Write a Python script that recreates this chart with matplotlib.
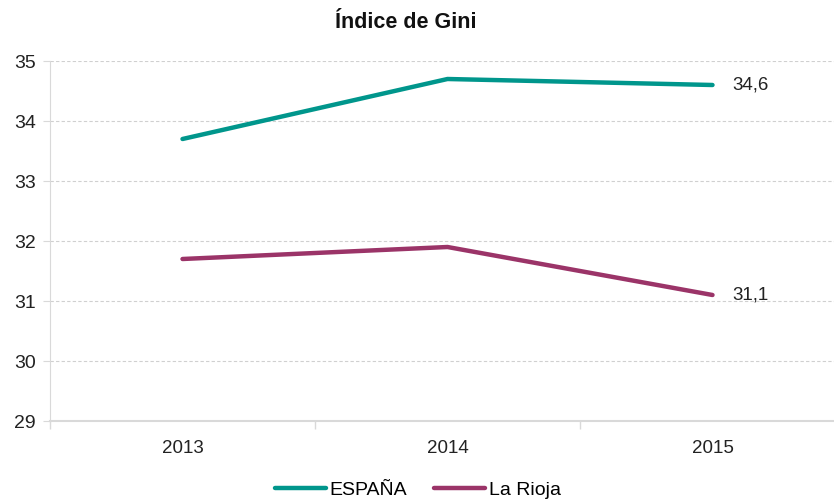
import matplotlib.pyplot as plt
import numpy as np

years = ['2013', '2014', '2015']
espana = [33.7, 34.7, 34.6]
rioja = [31.7, 31.9, 31.1]
series_names = ['ESPAÑA', 'La Rioja']
colors = ['#00968C', '#9B3468']

plt.rcParams['font.family'] = ['Liberation Sans', 'DejaVu Sans']

fig = plt.figure(figsize=(8.34, 5.04), dpi=100)
ax = fig.add_axes([50 / 834, 1 - 421 / 504, 795 / 834, 360 / 504])

x = np.arange(len(years))
for vals, name, col in zip([espana, rioja], series_names, colors):
    ax.plot(x, vals, color=col, lw=3.2, solid_capstyle='round', label=name)
    ax.text(x[-1] + 0.075, vals[-1], f'{vals[-1]:.1f}'.replace('.', ','),
            va='center', ha='left', fontsize=13.5, color='#222222')

ax.set_xlim(-0.5, 2.5)
ax.set_ylim(29, 35)
ax.set_yticks(range(29, 36))
ax.set_xticks(x)
ax.set_xticklabels(years)
ax.set_xticks([-0.5, 0.5, 1.5, 2.5], minor=True)
ax.tick_params(axis='x', which='major', length=0, pad=14, labelsize=13.5,
               colors='#222222')
ax.tick_params(axis='x', which='minor', length=6, color='#d9d9d9', width=1)
ax.tick_params(axis='y', length=5, color='#d9d9d9', labelsize=14, pad=5,
               colors='#222222')

ax.grid(axis='y', color='#d0d0d0', ls=(0, (3, 2)), lw=0.8)
ax.set_axisbelow(True)
for s in ['top', 'right']:
    ax.spines[s].set_visible(False)
ax.spines['left'].set_color('#d9d9d9')
ax.spines['bottom'].set_color('#d9d9d9')
ax.spines['bottom'].set_linewidth(1.5)

fig.text(406 / 834, 1 - 22 / 504, 'Índice de Gini', ha='center', va='center',
         fontsize=15.5, fontweight='bold', color='#111111')

fig.legend(loc='center', bbox_to_anchor=(418 / 834, 1 - 490 / 504), ncol=2,
           frameon=False, fontsize=14, handlelength=2.6, columnspacing=1.4,
           handletextpad=0.2)

fig.savefig('out.png', dpi=100)
